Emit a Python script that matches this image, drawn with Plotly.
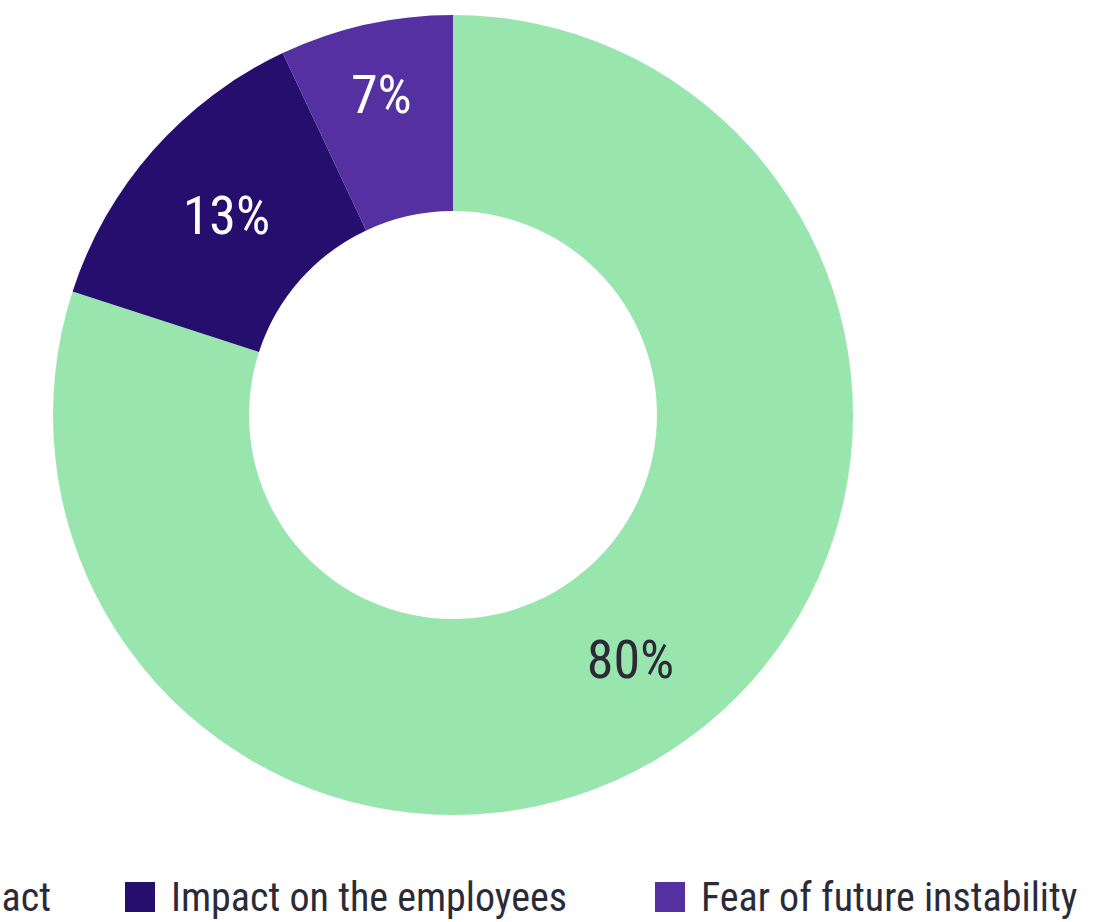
import plotly.graph_objects as go

# Survey breakdown
labels = ["Financial impact", "Impact on the employees", "Fear of future instability"]
values = [80, 13, 7]
colors = ["#98E6AE", "#260E6E", "#5530A0"]
text_colors = ["#2B2B38", "#FFFFFF", "#FFFFFF"]

W, H = 1117, 922
FONT = "Roboto Condensed, Liberation Sans Narrow, DejaVu Sans Condensed, Roboto, sans-serif"
INK = "#2B2B38"

fig = go.Figure(
    go.Pie(
        labels=labels,
        values=values,
        hole=0.51,
        sort=False,
        direction="clockwise",
        rotation=0,
        marker=dict(colors=colors, line=dict(width=0)),
        texttemplate="%{percent:.0%}",
        textposition="inside",
        insidetextorientation="horizontal",
        textfont=dict(family=FONT, size=54, color=text_colors),
        domain=dict(x=[53 / W, 853 / W], y=[1 - 815 / H, 1 - 15 / H]),
        showlegend=False,
        hoverinfo="label+percent",
    )
)

# Horizontal legend row along the bottom edge
legend_y = 1 - 897 / H
sq = 30
swatch_x = [-255, 125, 655]
for lab, col, sx in zip(labels, colors, swatch_x):
    fig.add_shape(
        type="rect", xref="paper", yref="paper",
        x0=sx / W, x1=(sx + sq) / W,
        y0=legend_y - sq / 2 / H, y1=legend_y + sq / 2 / H,
        fillcolor=col, line=dict(width=0),
    )
    fig.add_annotation(
        xref="paper", yref="paper", x=(sx + sq + 14) / W, y=legend_y,
        xanchor="left", yanchor="middle", text=lab, showarrow=False,
        font=dict(family=FONT, size=40, color=INK),
    )

fig.update_layout(
    width=W, height=H,
    margin=dict(l=0, r=0, t=0, b=0),
    paper_bgcolor="white", plot_bgcolor="white",
)

fig.write_html("out.html")
